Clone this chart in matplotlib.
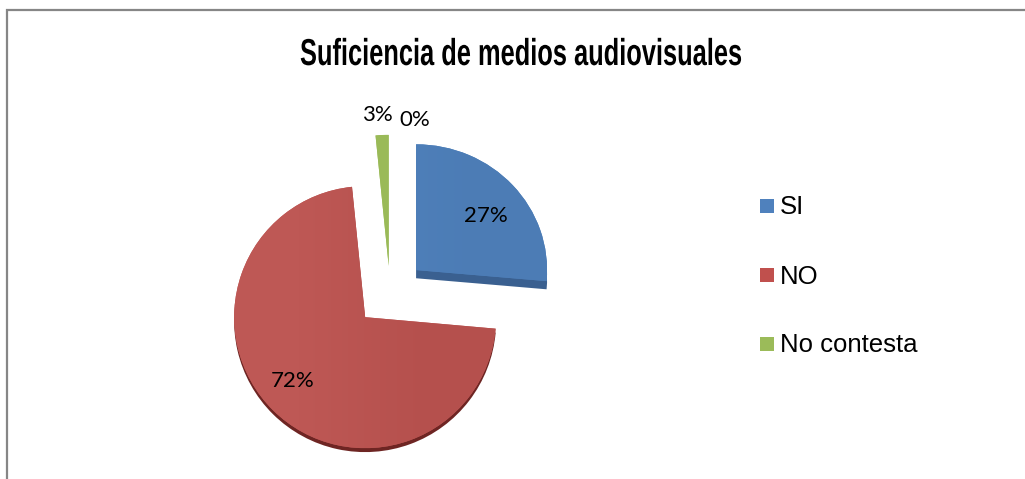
import matplotlib
matplotlib.use('Agg')
import matplotlib.pyplot as plt
from matplotlib.patches import Rectangle
from matplotlib.patheffects import AbstractPathEffect
from matplotlib.transforms import Affine2D
from matplotlib.colors import LinearSegmentedColormap

title = 'Suficiencia de medios audiovisuales'
categories = ['SI', 'NO', 'No contesta', '']
values = [26.4, 72, 1.6, 0]
pct_labels = ['27%', '72%', '3%', '0%']
legend_colors = ['#4F81BD', '#C0504D', '#9BBB59']
left_colors = ['#4F81BC', '#BE5855', '#9DBD5A', '#8064A2']
right_colors = ['#4C7CB5', '#B5504D', '#98B857', '#8064A2']
side_colors = ['#3A6090', '#6E2523', '#6F8A3C', '#8064A2']


class SqueezeX(AbstractPathEffect):
    # narrows drawn text around x=cx, there is no condensed font installed
    def __init__(self, cx, sx):
        super().__init__()
        self.cx = cx
        self.sx = sx

    def draw_path(self, renderer, gc, tpath, affine, rgbFace=None):
        squeeze = Affine2D().translate(-self.cx, 0).scale(self.sx, 1).translate(self.cx, 0)
        renderer.draw_path(gc, tpath, affine + squeeze, rgbFace)


W, H = 1025, 479
fig = plt.figure(figsize=(W / 100, H / 100), dpi=100, facecolor='white')

# frame: only top and left show up, the rest is cropped away
fig.add_artist(Rectangle((6.5 / W, -0.01), 1.02 - 6.5 / W, 1 - 9.5 / H + 0.01, transform=fig.transFigure,
                         fill=False, edgecolor='#868686', linewidth=1.6))

# pie, axes placed so that radius is 131 px around (390, 292)
R = 131
lim = 1.4
side = 2 * lim * R
ax = fig.add_axes([(390 - side / 2) / W, (H - 292 - side / 2) / H, side / W, side / H])

explode = [0.27, 0.27, 0.2, 0]
depth = [0.065, 0.03, 0.0, 0]

# darker copy underneath gives the 3d edge
side_wedges = []
for i in range(2):
    sw, _ = ax.pie(values, startangle=90, counterclock=False, explode=explode, center=(0, -depth[i]),
                   colors=[side_colors[j] if j == i else 'none' for j in range(4)],
                   wedgeprops={'linewidth': 0})
    side_wedges.append(sw[i])
wedges, _ = ax.pie(values, startangle=90, counterclock=False, explode=explode, colors=left_colors,
                   wedgeprops={'linewidth': 0})

# blue slice looks a bit flatter in the original perspective
flat = 0.96
for w in (wedges[0], side_wedges[0]):
    cy = wedges[0].center[1]
    w.set_transform(Affine2D().translate(0, -cy).scale(1, flat).translate(0, cy - 0.015) + ax.transData)

# soft left to right shading on each slice
for w, c1, c2 in zip(wedges[:3], left_colors, right_colors):
    cm = LinearSegmentedColormap.from_list('shade', [c1, c2])
    cx, cy = w.center
    im = ax.imshow([[0, 1]], cmap=cm, interpolation='bilinear', aspect='auto',
                   extent=(cx - 1, cx + 1, cy - 1, cy + 1), zorder=w.get_zorder())
    im.set_clip_path(w)

ax.set_xlim(-lim, lim)
ax.set_ylim(-lim, lim)
ax.set_aspect('equal')
ax.axis('off')

# data labels by hand because they sit in odd spots
label_font = ['Lato', 'DejaVu Sans']
label_pos = [(485.5, 222), (293, 387), (377.5, 121), (414.5, 126)]
for txt, (x, y) in zip(pct_labels, label_pos):
    fig.text(x / W, 1 - y / H, txt, fontsize=16, family=label_font, ha='center', va='baseline', color='black')

title_txt = fig.text(521 / W, 1 - 65 / H, title, fontsize=27, fontweight='bold',
                     family='Liberation Sans', ha='center', va='baseline', color='black')
title_w = title_txt.get_window_extent(fig.canvas.get_renderer()).width
title_txt.set_path_effects([SqueezeX(521, 442 / title_w)])

# legend
leg_y = [206, 275, 344]
for name, c, y in zip(categories[:3], legend_colors, leg_y):
    fig.add_artist(Rectangle((760 / W, 1 - (y + 7) / H), 14 / W, 14 / H, transform=fig.transFigure,
                             facecolor=c, edgecolor='none'))
    fig.text(780 / W, 1 - (y + 8.5) / H, name, fontsize=18.5, family='Liberation Sans', ha='left', va='baseline',
             color='black')

fig.savefig('out.png', dpi=100)
